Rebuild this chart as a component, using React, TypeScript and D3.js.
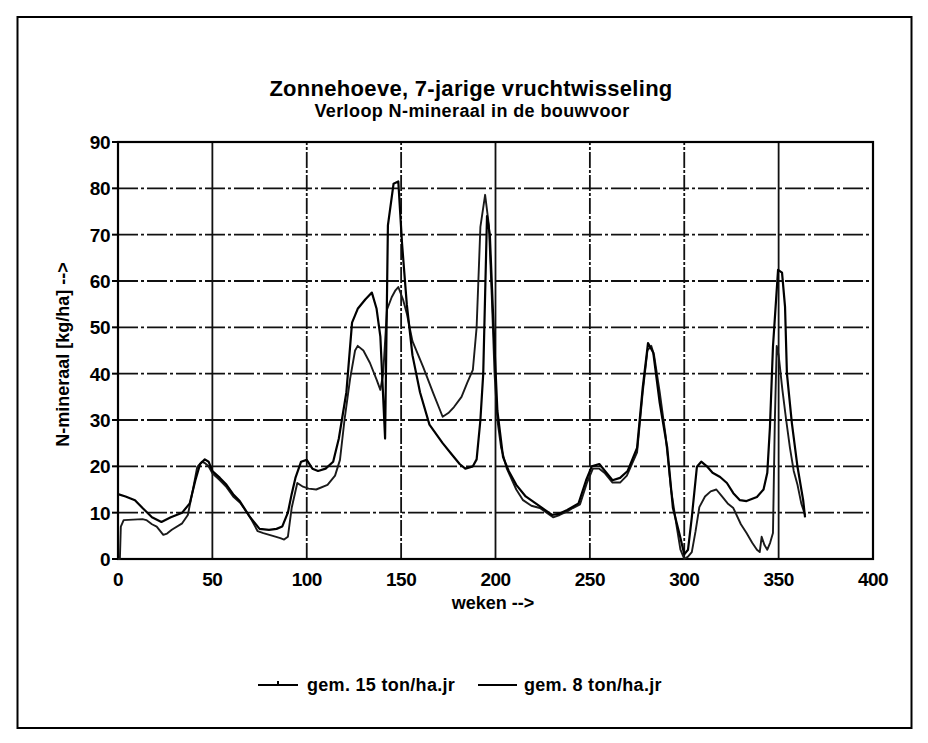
import { useEffect, useRef } from 'react'
import * as d3 from 'd3'

const title = 'Zonnehoeve, 7-jarige vruchtwisseling'
const subtitle = 'Verloop N-mineraal in de bouwvoor'
const yLabel = 'N-mineraal [kg/ha] -->'
const xLabel = 'weken -->'

const xTicks = [0, 50, 100, 150, 200, 250, 300, 350, 400]
const yTicks = [0, 10, 20, 30, 40, 50, 60, 70, 80, 90]

const seriesNames = ['gem. 15 ton/ha.jr', 'gem. 8 ton/ha.jr']

// gem. 15 ton/ha.jr
const weeksA = [
  0, 4, 9, 13, 18, 23, 28, 34, 38, 41, 43.5, 46, 48, 50, 54, 57.5, 61, 64.5, 70, 75, 80, 84, 87, 90, 92, 94, 97, 100,
  103, 106, 110, 114, 117, 121, 124, 127, 131, 134.5, 137, 139, 141.5, 143, 146, 148.5, 150.5, 153, 156, 160, 165,
  172, 176, 181, 184, 188, 190, 192, 193.5, 195.5, 197, 199, 201, 204, 207, 211, 216, 223, 230, 234, 238, 244, 248,
  251, 255, 258, 262, 266, 270, 275, 278, 280.8, 283.6, 287, 291, 294, 297.7, 300, 302, 304, 306.7, 309, 312, 315,
  319, 322.6, 326, 329.5, 333, 338.5, 342, 344, 345.4, 347, 349.7, 351.8, 353.4, 354.4, 357, 360, 363, 364,
]
const valuesA = [
  14, 13.5, 12.7, 11, 9, 8, 9, 10, 12, 17, 20.5, 21.5, 21, 19, 17.5, 16, 14, 12.5, 9, 6.5, 6.3, 6.5, 7, 10, 14, 17.5,
  21, 21.4, 19.5, 19, 19.5, 21, 26, 36, 51, 54, 56, 57.5, 54, 48, 26, 72, 81, 81.5, 68, 55, 44, 36, 29, 25, 23, 20.5,
  19.5, 20, 21.5, 30, 40, 74, 70, 50, 32, 22, 19, 16, 13.5, 11.5, 9.5, 9.8, 10.6, 12, 17, 20, 20.5, 19, 17, 17.5, 19,
  24, 37, 46.6, 44.5, 33.7, 24, 11, 5, 1, 2, 9, 19.9, 21, 20, 18.6, 17.7, 16.4, 14.2, 12.7, 12.5, 13.4, 15, 18.6,
  28.5, 45.8, 62.4, 61.8, 54.4, 40, 29.4, 19.9, 12.7, 9,
]

// gem. 8 ton/ha.jr
const weeksB = [
  0, 1, 1.5, 3, 8, 13, 15, 18, 20.5, 24, 26, 28.5, 34, 37, 40, 42, 44.5, 46, 48, 50, 54, 57.5, 61, 65, 70, 74, 77, 82,
  86, 88, 90, 92, 95, 98, 101, 105, 111, 115, 117.6, 120, 123, 125.6, 127, 130, 133.5, 137, 139, 140.5, 142.5, 145,
  147, 148.5, 151, 153, 156, 161.6, 167, 172, 175, 178, 182, 185, 188, 190, 192, 194.5, 196.5, 198, 199.5, 201, 203,
  206, 211, 214.6, 219, 223.5, 230.5, 234, 237.8, 241, 244.8, 248.5, 251.6, 255, 258, 262, 266, 269.6, 275, 278,
  280.5, 282.5, 284, 287, 290, 293, 296, 298, 300, 302, 304, 306, 308, 311, 314, 317, 320, 323, 326, 330, 333, 336,
  338.5, 340, 341, 342.5, 344, 345.5, 347, 348, 349, 350, 352, 354, 356, 358, 360, 362, 364,
]
const valuesB = [
  0, 0, 7, 8.4, 8.5, 8.6, 8.4, 7.5, 7, 5.2, 5.5, 6.3, 7.7, 9.5, 15.6, 19.9, 21, 20.7, 20, 18.5, 17, 15.5, 13.5, 12,
  9, 6, 5.6, 5, 4.5, 4.2, 4.8, 11, 16.4, 15.6, 15.2, 15, 16, 18, 21.4, 30, 39, 45, 46, 45, 42.3, 38.7, 36.5, 40, 53.8,
  56.5, 58, 58.7, 56, 53, 47, 41.5, 35.8, 30.7, 31.5, 32.8, 35, 38, 40.8, 50, 71.7, 78.6, 72, 57, 40, 30, 24, 19.5, 15,
  12.7, 11.5, 11, 9, 9.5, 10.2, 11, 11.8, 16.5, 19.5, 19.5, 18.5, 16.5, 16.5, 18, 23, 36, 45, 46, 44, 36, 27, 15, 7, 2,
  0, 0.5, 1.5, 6, 11.2, 13.5, 14.6, 15, 13.5, 12, 11, 7.5, 5.6, 3.5, 2, 1.5, 4.8, 3, 2, 3.5, 5.6, 30, 46, 44, 36.5, 30,
  24, 19, 16, 12, 9.5,
]

const FONT = '"Liberation Sans", Arial, sans-serif'

export default function App() {
  const svgRef = useRef(null)

  useEffect(() => {
    const svgNode = svgRef.current
    if (!svgNode) return

    const width = 928
    const height = 743
    const margin = { left: 118, right: 928 - 873, top: 142, bottom: 743 - 559 }

    const svg = d3.select(svgNode)
    svg.selectAll('*').remove()
    svg.attr('width', width).attr('height', height).attr('viewBox', `0 0 ${width} ${height}`)

    svg.append('rect').attr('width', width).attr('height', height).attr('fill', '#fff')

    // outer frame
    svg.append('rect')
      .attr('x', 17.5)
      .attr('y', 17)
      .attr('width', 894)
      .attr('height', 711)
      .attr('fill', 'none')
      .attr('stroke', '#000')
      .attr('stroke-width', 2)

    const x = d3.scaleLinear().domain([0, 400]).range([margin.left, width - margin.right])
    const y = d3.scaleLinear().domain([0, 90]).range([height - margin.bottom, margin.top])

    // titles
    svg.append('text')
      .attr('x', 471)
      .attr('y', 96)
      .attr('text-anchor', 'middle')
      .attr('font-family', FONT)
      .attr('font-weight', 'bold')
      .attr('font-size', 22)
      .attr('letter-spacing', 0.3)
      .text(title)

    svg.append('text')
      .attr('x', 472)
      .attr('y', 117)
      .attr('text-anchor', 'middle')
      .attr('font-family', FONT)
      .attr('font-weight', 'bold')
      .attr('font-size', 18)
      .attr('letter-spacing', 0.4)
      .text(subtitle)

    // grid
    const grid = svg.append('g').attr('stroke', '#111').attr('stroke-width', 1.8)

    grid.selectAll('line.h')
      .data(yTicks.filter(d => d > 0 && d < 90))
      .join('line')
      .attr('class', 'h')
      .attr('x1', x(0))
      .attr('x2', x(400))
      .attr('y1', d => y(d))
      .attr('y2', d => y(d))
      .attr('stroke-dasharray', '20 3 3 3')

    grid.selectAll('line.v')
      .data(xTicks.filter(d => d > 0 && d < 400))
      .join('line')
      .attr('class', 'v')
      .attr('x1', d => x(d))
      .attr('x2', d => x(d))
      .attr('y1', y(0))
      .attr('y2', y(90))
      .attr('stroke-dasharray', (d, i) => (i % 3 === 0 ? null : '16 2 3 2'))

    // plot box
    svg.append('rect')
      .attr('x', x(0))
      .attr('y', y(90))
      .attr('width', x(400) - x(0))
      .attr('height', y(0) - y(90))
      .attr('fill', 'none')
      .attr('stroke', '#000')
      .attr('stroke-width', 2.2)

    // y axis ticks + labels
    const yAxis = svg.append('g')
    yAxis.selectAll('line')
      .data(yTicks)
      .join('line')
      .attr('x1', x(0) - 6)
      .attr('x2', x(0))
      .attr('y1', d => y(d))
      .attr('y2', d => y(d))
      .attr('stroke', '#000')
      .attr('stroke-width', 2)

    yAxis.selectAll('text')
      .data(yTicks)
      .join('text')
      .attr('x', x(0) - 8)
      .attr('y', d => y(d))
      .attr('dy', '0.36em')
      .attr('text-anchor', 'end')
      .attr('font-family', FONT)
      .attr('font-weight', 'bold')
      .attr('font-size', 19)
      .attr('letter-spacing', -0.5)
      .text(d => d)

    // x axis labels
    svg.append('g')
      .selectAll('text')
      .data(xTicks)
      .join('text')
      .attr('x', d => x(d))
      .attr('y', y(0) + 27)
      .attr('text-anchor', 'middle')
      .attr('font-family', FONT)
      .attr('font-weight', 'bold')
      .attr('font-size', 19)
      .attr('letter-spacing', -0.5)
      .text(d => d)

    svg.append('text')
      .attr('x', 493)
      .attr('y', 609)
      .attr('text-anchor', 'middle')
      .attr('font-family', FONT)
      .attr('font-weight', 'bold')
      .attr('font-size', 18)
      .text(xLabel)

    svg.append('text')
      .attr('transform', `translate(69,${(y(0) + y(90)) / 2 + 4}) rotate(-90)`)
      .attr('text-anchor', 'middle')
      .attr('font-family', FONT)
      .attr('font-weight', 'bold')
      .attr('font-size', 18)
      .text(yLabel)

    // series
    const line = d3.line()
      .x(d => x(d[0]))
      .y(d => y(d[1]))
      .curve(d3.curveLinear)

    const dataA = weeksA.map((w, i) => [w, valuesA[i]])
    const dataB = weeksB.map((w, i) => [w, valuesB[i]])

    svg.append('path')
      .datum(dataB)
      .attr('d', line)
      .attr('fill', 'none')
      .attr('stroke', '#1a1a1a')
      .attr('stroke-width', 1.9)
      .attr('stroke-linejoin', 'round')

    svg.append('path')
      .datum(dataA)
      .attr('d', line)
      .attr('fill', 'none')
      .attr('stroke', '#000')
      .attr('stroke-width', 2.2)
      .attr('stroke-linejoin', 'round')

    // legend
    const legendY = 685
    const legend = svg.append('g').attr('font-family', FONT).attr('font-weight', 'bold').attr('font-size', 18)

    legend.append('line')
      .attr('x1', 258).attr('x2', 298)
      .attr('y1', legendY).attr('y2', legendY)
      .attr('stroke', '#000').attr('stroke-width', 2.2)
    legend.append('line')
      .attr('x1', 278).attr('x2', 278)
      .attr('y1', legendY - 4).attr('y2', legendY)
      .attr('stroke', '#000').attr('stroke-width', 2)
    legend.append('text').attr('x', 307).attr('y', legendY + 6).attr('letter-spacing', 0.3).text(seriesNames[0])

    legend.append('line')
      .attr('x1', 478).attr('x2', 517)
      .attr('y1', legendY).attr('y2', legendY)
      .attr('stroke', '#000').attr('stroke-width', 2)
    legend.append('text').attr('x', 524).attr('y', legendY + 6).attr('letter-spacing', 0.3).text(seriesNames[1])
  }, [])

  return (
    <div style={{ position: 'absolute', left: 0, top: 0 }}>
      <svg ref={svgRef} style={{ display: 'block' }} />
    </div>
  )
}
